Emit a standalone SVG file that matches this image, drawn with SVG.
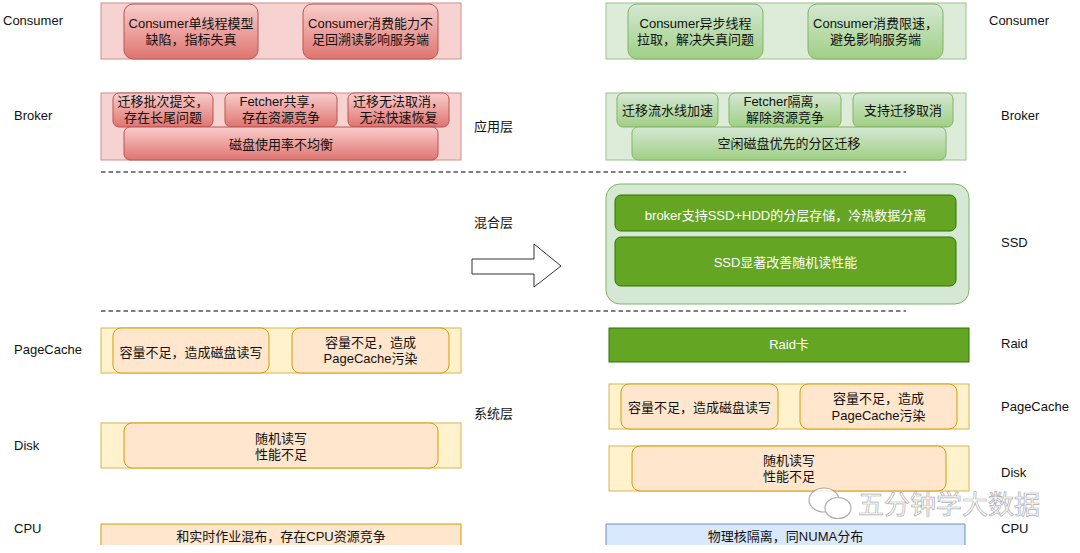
<svg xmlns="http://www.w3.org/2000/svg" width="1080" height="553" viewBox="0 0 1080 553">
<style>
text{font-family:"Liberation Sans","Noto Sans CJK SC",sans-serif;font-size:13px;fill:#111}
.c{text-anchor:middle}
.w{fill:#ffffff}
.ro{fill:#f6d3d1;stroke:#d08e8a;stroke-width:1}
.ri{fill:url(#gr);stroke:#b85450;stroke-width:1}
.go{fill:#dcecd9;stroke:#9cc28a;stroke-width:1}
.gi{fill:url(#gg);stroke:#82b366;stroke-width:1}
.gc{fill:#d5e8d4;stroke:#82b366;stroke-width:1}
.gd{fill:#64a523;stroke:#2d7600;stroke-width:1}
.yo{fill:#fff2cc;stroke:#d6b656;stroke-width:1}
.yi{fill:#ffe6cc;stroke:#d79b00;stroke-width:1}
.dash{stroke:#000;stroke-width:1.2;stroke-dasharray:4.5 3;fill:none}
</style>
<defs>
<linearGradient id="gr" x1="0" y1="0" x2="0" y2="1"><stop offset="0" stop-color="#f8cecc"/><stop offset="1" stop-color="#df7470"/></linearGradient>
<linearGradient id="gg" x1="0" y1="0" x2="0" y2="1"><stop offset="0" stop-color="#d5e8d4"/><stop offset="1" stop-color="#9fcf84"/></linearGradient>
</defs>
<rect width="1080" height="553" fill="#ffffff"/>

<g id="labels">
<text x="3" y="24.5">Consumer</text>
<text x="14" y="120">Broker</text>
<text x="14" y="353.5">PageCache</text>
<text x="14" y="449.5">Disk</text>
<text x="14" y="532.5">CPU</text>
<text x="989" y="24.5">Consumer</text>
<text x="1001" y="120">Broker</text>
<text x="1001" y="246.5">SSD</text>
<text x="1001" y="347.5">Raid</text>
<text x="1001" y="410.5">PageCache</text>
<text x="1001" y="476.5">Disk</text>
<text x="1001" y="532.5">CPU</text>
<text x="474" y="131">应用层</text>
<text x="474" y="226.5">混合层</text>
<text x="474" y="417.5">系统层</text>
</g>

<g id="connectors">
<line class="dash" x1="101" y1="172" x2="906" y2="172"/>
<line class="dash" x1="101" y1="311" x2="906" y2="311"/>
<polygon points="472,259 534,259 534,244 561,266 534,287 534,274 472,274" fill="#ffffff" stroke="#333" stroke-width="1"/>
</g>

<g id="consumer-left">
<rect class="ro" x="101" y="3" width="360" height="56"/>
<rect class="ri" x="124" y="4" width="134" height="55" rx="9"/>
<text class="c" x="191" y="28">Consumer单线程模型</text>
<text class="c" x="191" y="44">缺陷，指标失真</text>
<rect class="ri" x="303" y="4" width="135" height="55" rx="9"/>
<text class="c" x="370.5" y="28">Consumer消费能力不</text>
<text class="c" x="370.5" y="44">足回溯读影响服务端</text>
</g>

<g id="broker-left">
<rect class="ro" x="101" y="93" width="360" height="67"/>
<rect class="ri" x="113" y="93" width="100" height="34" rx="6"/>
<text class="c" x="163" y="106">迁移批次提交，</text>
<text class="c" x="163" y="122">存在长尾问题</text>
<rect class="ri" x="225" y="93" width="112" height="34" rx="6"/>
<text class="c" x="281" y="106">Fetcher共享，</text>
<text class="c" x="281" y="122">存在资源竞争</text>
<rect class="ri" x="348" y="93" width="101" height="34" rx="6"/>
<text class="c" x="398.5" y="106">迁移无法取消，</text>
<text class="c" x="398.5" y="122">无法快速恢复</text>
<rect class="ri" x="124" y="127" width="314" height="33" rx="6"/>
<text class="c" x="281" y="149">磁盘使用率不均衡</text>
</g>

<g id="consumer-right">
<rect class="go" x="606" y="3" width="360" height="56"/>
<rect class="gi" x="628" y="4" width="135" height="55" rx="9"/>
<text class="c" x="695.5" y="28">Consumer异步线程</text>
<text class="c" x="695.5" y="44">拉取，解决失真问题</text>
<rect class="gi" x="808" y="4" width="135" height="55" rx="9"/>
<text class="c" x="875.5" y="28">Consumer消费限速，</text>
<text class="c" x="875.5" y="44">避免影响服务端</text>
</g>

<g id="broker-right">
<rect class="go" x="606" y="93" width="360" height="67"/>
<rect class="gi" x="617" y="93" width="101" height="34" rx="6"/>
<text class="c" x="667.5" y="115">迁移流水线加速</text>
<rect class="gi" x="729" y="93" width="112" height="34" rx="6"/>
<text class="c" x="785" y="106">Fetcher隔离，</text>
<text class="c" x="785" y="122">解除资源竞争</text>
<rect class="gi" x="853" y="93" width="100" height="34" rx="6"/>
<text class="c" x="903" y="115">支持迁移取消</text>
<rect class="gi" x="632" y="127" width="314" height="33" rx="6"/>
<text class="c" x="789" y="148">空闲磁盘优先的分区迁移</text>
</g>

<g id="ssd">
<rect class="gc" x="606" y="184" width="363" height="120" rx="14"/>
<rect class="gd" x="615" y="195" width="341" height="36" rx="6"/>
<text class="c w" x="785.5" y="219.5">broker支持SSD+HDD的分层存储，冷热数据分离</text>
<rect class="gd" x="615" y="237" width="341" height="49" rx="6"/>
<text class="c w" x="785.5" y="267">SSD显著改善随机读性能</text>
</g>

<g id="pagecache-left">
<rect class="yo" x="101" y="328" width="360" height="45"/>
<rect class="yi" x="113" y="328" width="156" height="45" rx="8"/>
<text class="c" x="191" y="356.5">容量不足，造成磁盘读写</text>
<rect class="yi" x="292" y="328" width="157" height="45" rx="8"/>
<text class="c" x="370.5" y="347">容量不足，造成</text>
<text class="c" x="370.5" y="363">PageCache污染</text>
</g>

<g id="disk-left">
<rect class="yo" x="101" y="423" width="360" height="45"/>
<rect class="yi" x="124" y="423" width="314" height="45" rx="8"/>
<text class="c" x="281" y="442.5">随机读写</text>
<text class="c" x="281" y="459">性能不足</text>
</g>

<g id="cpu-left">
<rect x="101" y="524" width="360" height="21" fill="#ffe6cc"/>
<path d="M101,545 V524 H461 V545" fill="none" stroke="#d79b00" stroke-width="1"/>
<text class="c" x="281" y="540.5">和实时作业混布，存在CPU资源竞争</text>
</g>

<g id="raid">
<rect class="gd" x="609" y="328" width="360" height="34"/>
<text class="c w" x="789" y="348.5">Raid卡</text>
</g>

<g id="pagecache-right">
<rect class="yo" x="609" y="384" width="360" height="45"/>
<rect class="yi" x="621" y="384" width="157" height="45" rx="8"/>
<text class="c" x="699.5" y="411.5">容量不足，造成磁盘读写</text>
<rect class="yi" x="800" y="384" width="157" height="45" rx="8"/>
<text class="c" x="878.5" y="402.5">容量不足，造成</text>
<text class="c" x="878.5" y="419.5">PageCache污染</text>
</g>

<g id="disk-right">
<rect class="yo" x="609" y="446" width="360" height="45"/>
<rect class="yi" x="632" y="446" width="314" height="45" rx="8"/>
<text class="c" x="789" y="464.5">随机读写</text>
<text class="c" x="789" y="481">性能不足</text>
</g>

<g id="cpu-right">
<rect x="606" y="524" width="359" height="21" fill="#dae8fc"/>
<path d="M606,545 V524 H965 V545" fill="none" stroke="#6c8ebf" stroke-width="1"/>
<text class="c" x="785.5" y="540.5">物理核隔离，同NUMA分布</text>
</g>

<g id="watermark" opacity="0.8">
<ellipse cx="824" cy="500" rx="15" ry="12" fill="#fff" stroke="#9a9a9a" stroke-width="1.2"/>
<ellipse cx="838" cy="508" rx="13" ry="10.5" fill="#fff" stroke="#9a9a9a" stroke-width="1.2"/>
<text x="858" y="514" style="font-size:26px;fill:#ffffff;stroke:#9a9a9a;stroke-width:0.7">五分钟学大数据</text>
</g>
</svg>
